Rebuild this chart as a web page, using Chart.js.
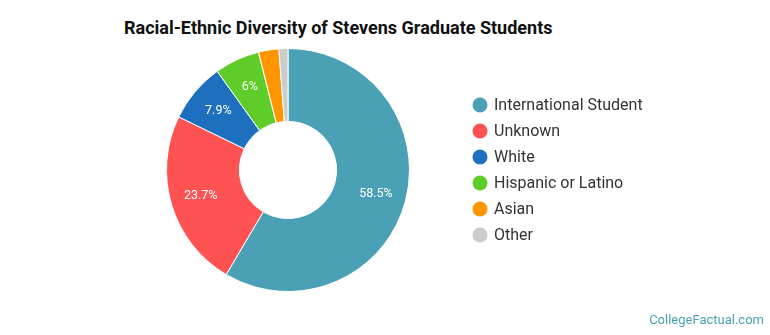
<!DOCTYPE html>
<html>
<head>
<meta charset="utf-8">
<script src="https://cdn.jsdelivr.net/npm/chart.js@4"></script>
<style>
  html, body { margin: 0; padding: 0; background: #fff; }
  body { width: 770px; height: 335px; position: relative; overflow: hidden; font-family: Roboto, sans-serif; }
  #title { position: absolute; left: 124px; top: 17px; font-size: 18px; font-weight: bold; color: #111; white-space: nowrap; }
  #wrap { position: absolute; left: 0; top: 0; width: 770px; height: 335px; }
  #brand { position: absolute; right: 6px; top: 312px; font-size: 13px; color: #4a9fb5; }
</style>
</head>
<body>
<div id="title">Racial-Ethnic Diversity of Stevens Graduate Students</div>
<div id="wrap"><canvas id="diversityChart"></canvas></div>
<div id="brand">CollegeFactual.com</div>
<script>
const groups = ["International Student", "Unknown", "White", "Hispanic or Latino", "Asian", "Other"];
const shares = [58.5, 23.7, 7.9, 6, 2.7, 1.2];
const colors = ["#4aa0b5", "#ff5252", "#1f6fbf", "#5ecc29", "#ff9500", "#cccccc"];

// percent labels inside the bigger slices
const sliceLabels = {
    id: "sliceLabels",
    afterDatasetsDraw(chart) {
        const ctx = chart.ctx;
        const meta = chart.getDatasetMeta(0);
        ctx.save();
        ctx.font = "12.5px Roboto, sans-serif";
        ctx.fillStyle = "#fff";
        ctx.textAlign = "center";
        ctx.textBaseline = "middle";
        meta.data.forEach(function (arc, i) {
            if (shares[i] < 5) return;
            const mid = (arc.startAngle + arc.endAngle) / 2;
            const r = arc.outerRadius * 0.75;
            ctx.fillText(shares[i] + "%", arc.x + Math.cos(mid) * r, arc.y + Math.sin(mid) * r);
        });
        ctx.restore();
    }
};

// legend on the right, round markers
const sideLegend = {
    id: "sideLegend",
    afterDraw(chart) {
        const ctx = chart.ctx;
        ctx.save();
        ctx.font = "16px Roboto, sans-serif";
        ctx.textBaseline = "middle";
        groups.forEach(function (g, i) {
            const y = 105 + i * 26;
            ctx.beginPath();
            ctx.arc(480, y, 7.5, 0, Math.PI * 2);
            ctx.fillStyle = colors[i];
            ctx.fill();
            ctx.fillStyle = "#333";
            ctx.fillText(g, 494, y + 1);
        });
        ctx.restore();
    }
};

document.addEventListener('DOMContentLoaded', function () {
    new Chart(document.getElementById("diversityChart"), {
        type: "doughnut",
        data: {
            labels: groups,
            datasets: [{
                data: shares,
                backgroundColor: colors,
                borderColor: "#fff",
                borderWidth: 1,
            }],
        },
        options: {
            responsive: true,
            maintainAspectRatio: false,
            animation: false,
            cutout: "40%",
            layout: { padding: { left: 166, right: 360, top: 48, bottom: 43 } },
            plugins: {
                legend: { display: false },
                tooltip: { enabled: false },
            },
        },
        plugins: [sliceLabels, sideLegend],
    });
});
</script>
</body>
</html>
